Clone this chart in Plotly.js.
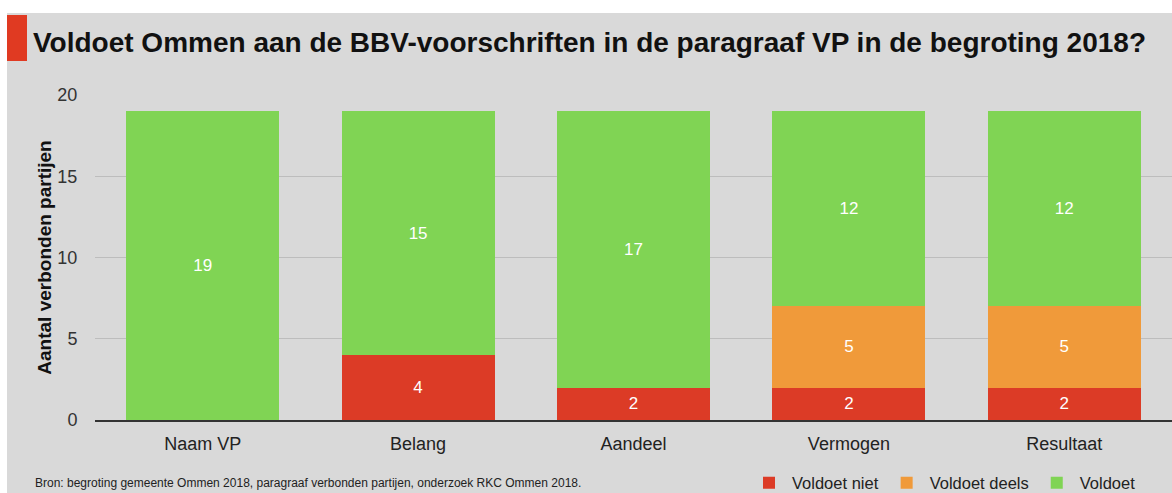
<!DOCTYPE html>
<html>
<head>
<meta charset="utf-8">
<script src="https://cdn.plot.ly/plotly-3.0.1.min.js"></script>
<style>
  html, body { margin: 0; padding: 0; background: #ffffff; }
  #chart { position: absolute; left: 7px; top: 13px; width: 1165px; height: 480px; }
</style>
</head>
<body>
<div id="chart"></div>
<script>
const categories = ['Naam VP', 'Belang', 'Aandeel', 'Vermogen', 'Resultaat'];
const voldoetNiet = [0, 4, 2, 2, 2];
const voldoetDeels = [0, 0, 0, 5, 5];
const voldoet = [19, 15, 17, 12, 12];
const seriesNames = ['Voldoet niet', 'Voldoet deels', 'Voldoet'];
const seriesColors = ['#dc3b26', '#f09a3a', '#80d454'];
const titleText = 'Voldoet Ommen aan de BBV-voorschriften in de paragraaf VP in de begroting 2018?';
const yTitle = 'Aantal verbonden partijen';
const sourceText = 'Bron: begroting gemeente Ommen 2018, paragraaf verbonden partijen, onderzoek RKC Ommen 2018.';

const FONT = '"Liberation Sans", Arial, Helvetica, sans-serif';
const seriesValues = [voldoetNiet, voldoetDeels, voldoet];

const W = 1165, H = 480;
const M = { l: 88, r: 0, t: 82, b: 73, autoexpand: false };
const PW = W - M.l - M.r, PH = H - M.t - M.b;

const traces = seriesValues.map((vals, i) => ({
  type: 'bar',
  name: seriesNames[i],
  x: categories,
  y: vals,
  text: vals.map(v => v > 0 ? String(v) : ''),
  textposition: 'inside',
  insidetextanchor: 'middle',
  textangle: 0,
  textfont: { family: FONT, size: 17, color: '#ffffff' },
  marker: { color: seriesColors[i], line: { width: 0 } },
  hoverinfo: 'skip'
}));

const layout = {
  width: W,
  height: H,
  barmode: 'stack',
  bargap: 0.29,
  paper_bgcolor: '#d9d9d9',
  plot_bgcolor: '#d9d9d9',
  margin: M,
  font: { family: FONT, color: '#333333' },
  title: {
    text: '<b>' + titleText + '</b>',
    font: { family: FONT, size: 28, color: '#111111' },
    xref: 'container', x: 26 / W, xanchor: 'left',
    yref: 'container', y: 1 - 29 / H, yanchor: 'middle'
  },
  xaxis: {
    type: 'category',
    showgrid: false,
    showline: true,
    linecolor: '#333333',
    linewidth: 1.5,
    ticks: 'outside',
    ticklen: 7,
    tickcolor: 'rgba(0,0,0,0)',
    tickfont: { family: FONT, size: 18, color: '#222222' },
    zeroline: false
  },
  yaxis: {
    range: [0, 20],
    dtick: 5,
    tick0: 0,
    showgrid: true,
    gridcolor: '#bdbdbd',
    gridwidth: 1,
    zeroline: false,
    ticks: 'outside',
    ticklen: 13,
    tickcolor: 'rgba(0,0,0,0)',
    tickfont: { family: FONT, size: 18, color: '#333333' },
    title: {
      text: '<b>' + yTitle + '</b>',
      font: { family: FONT, size: 19, color: '#111111' },
      standoff: 0
    }
  },
  legend: {
    orientation: 'h',
    x: (739 - M.l) / PW, xanchor: 'left',
    y: -63 / PH, yanchor: 'middle',
    font: { family: FONT, size: 16.5, color: '#222222' },
    bgcolor: 'rgba(0,0,0,0)',
    itemwidth: 36,
    traceorder: 'normal',
    itemclick: false,
    itemdoubleclick: false
  },
  showlegend: true,
  annotations: [{
    text: sourceText,
    xref: 'paper', yref: 'paper',
    x: (26 - M.l) / PW, xanchor: 'left',
    y: -63 / PH, yanchor: 'middle',
    showarrow: false,
    font: { family: FONT, size: 12, color: '#222222' }
  }],
  shapes: [{
    type: 'rect',
    xref: 'paper', yref: 'paper',
    x0: -M.l / PW, x1: (20 - M.l) / PW,
    y0: (H - M.b - 48) / PH, y1: (H - M.b - 2) / PH,
    fillcolor: '#e03a22',
    line: { width: 0 },
    layer: 'above'
  }]
};

Plotly.newPlot('chart', traces, layout, { staticPlot: true, displayModeBar: false });
</script>
</body>
</html>
